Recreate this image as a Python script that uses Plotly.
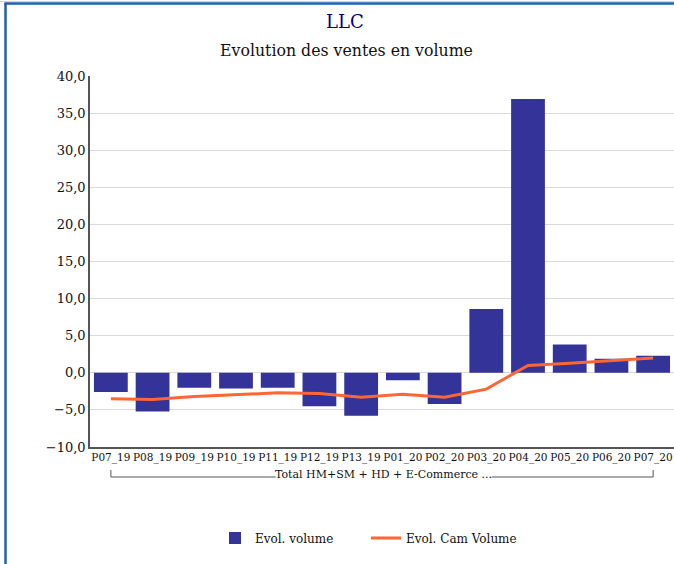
import plotly.graph_objects as go

categories = ["P07_19", "P08_19", "P09_19", "P10_19", "P11_19", "P12_19", "P13_19",
              "P01_20", "P02_20", "P03_20", "P04_20", "P05_20", "P06_20", "P07_20"]
evol_volume = [-2.6, -5.2, -2.0, -2.1, -2.0, -4.5, -5.8, -1.0, -4.2, 8.6, 36.9, 3.8, 1.9, 2.3]
evol_cam_volume = [-3.5, -3.6, -3.2, -3.0, -2.7, -2.8, -3.3, -2.9, -3.3, -2.2, 1.0, 1.3, 1.6, 2.0]
y_ticks = [-10, -5, 0, 5, 10, 15, 20, 25, 30, 35, 40]
group_label = "Total HM+SM + HD + E-Commerce ..."

FONT = "DejaVu Serif"

fig = go.Figure()
fig.add_trace(go.Bar(x=categories, y=evol_volume, name="Evol. volume",
                     marker=dict(color="#333399", line=dict(width=0)), legend="legend"))
fig.add_trace(go.Scatter(x=categories, y=evol_cam_volume, name="Evol. Cam Volume",
                         mode="lines", line=dict(color="#ff6633", width=3), legend="legend2"))

plot_h = 564 - 76 - 117
plot_w = 674 - 90
def py(pix):
    return (564 - 117 - pix) / plot_h
def px(pix):
    return (pix - 90) / plot_w

fig.update_layout(
    width=674, height=564,
    margin=dict(l=90, r=0, t=76, b=117, autoexpand=False),
    paper_bgcolor="white", plot_bgcolor="white",
    font=dict(family=FONT, color="#111111", size=12),
    separators=", ",
    bargap=0.19,
    showlegend=True,
    legend=dict(orientation="h", x=px(215), xanchor="left", y=py(538), yanchor="middle",
                font=dict(family=FONT, size=12, color="#111111"), itemwidth=30),
    legend2=dict(orientation="h", x=px(366), xanchor="left", y=py(538), yanchor="middle",
                 font=dict(family=FONT, size=12, color="#111111"), itemwidth=30),
    xaxis=dict(type="category", range=[-0.5, 13.5], showgrid=False, automargin=False,
               showline=True, linecolor="#555555", linewidth=1.5, tickangle=0,
               ticks="", tickfont=dict(family=FONT, size=10.5, color="#111111")),
    yaxis=dict(range=[-10, 40], tickvals=y_ticks, tickformat=".1f", automargin=False,
               showgrid=True, gridcolor="#d9d9d9", gridwidth=1,
               zeroline=False, showline=True, linecolor="#555555", linewidth=1.5,
               ticks="", tickfont=dict(family=FONT, size=13, color="#111111")),
)

fig.add_annotation(text="LLC", x=px(345), y=py(22), xref="paper", yref="paper",
                   showarrow=False, xanchor="center", yanchor="middle",
                   font=dict(family=FONT, size=18, color="#000080"))
fig.add_annotation(text="Evolution des ventes en volume", x=px(346), y=py(50),
                   xref="paper", yref="paper", showarrow=False,
                   xanchor="center", yanchor="middle",
                   font=dict(family=FONT, size=15.75, color="#111111"))
fig.add_annotation(text=group_label, x=px(383), y=py(474), xref="paper", yref="paper",
                   showarrow=False, xanchor="center", yanchor="middle",
                   font=dict(family=FONT, size=11, color="#111111"))

bc = "#555555"
fig.add_shape(type="line", xref="x", yref="paper", x0=0, x1=0, y0=py(470), y1=py(477),
              line=dict(color=bc, width=1))
fig.add_shape(type="line", xref="x", yref="paper", x0=13, x1=13, y0=py(470), y1=py(477),
              line=dict(color=bc, width=1))
fig.add_shape(type="line", xref="x", yref="paper", x0=0, x1=3.95, y0=py(477), y1=py(477),
              line=dict(color=bc, width=1))
fig.add_shape(type="line", xref="x", yref="paper", x0=9.13, x1=13, y0=py(477), y1=py(477),
              line=dict(color=bc, width=1))

fig.add_shape(type="line", xref="paper", yref="paper", x0=px(0), x1=px(700),
              y0=py(1.5), y1=py(1.5), line=dict(color="#d0d0d0", width=1))
fig.add_shape(type="line", xref="paper", yref="paper", x0=px(5.5), x1=px(5.5),
              y0=py(3), y1=py(570), line=dict(color="#1e5fb0", width=2.5))
fig.add_shape(type="line", xref="paper", yref="paper", x0=px(4.5), x1=px(680),
              y0=py(3.5), y1=py(3.5), line=dict(color="#1e5fb0", width=2.5))

fig.write_html("out.html", config={"displayModeBar": False},
               post_script="document.body.style.margin='0';document.body.style.padding='0';")
